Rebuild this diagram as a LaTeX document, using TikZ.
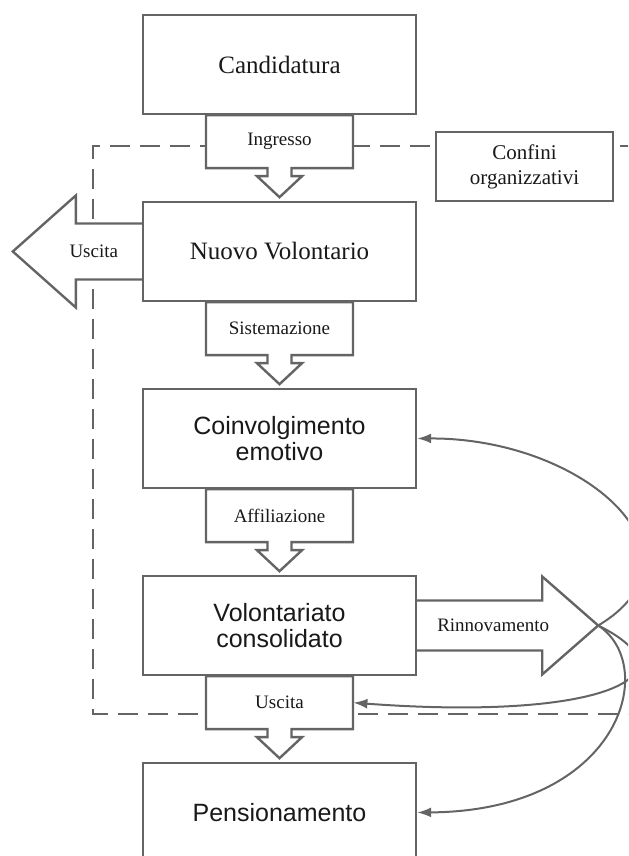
\documentclass[tikz,border=0pt]{standalone}
\usepackage{fontspec}
\setmainfont{Liberation Serif}
\setsansfont{Liberation Sans}
\usepackage{xcolor}
\usepackage{tikz}
\usetikzlibrary{arrows.meta, positioning}
\definecolor{linegray}{RGB}{100,100,100}
\definecolor{inkgray}{RGB}{25,25,25}

\tikzset{
  downarrow/.pic={
    \draw[draw=linegray, line width=1.2pt, fill=white]
      (-73.5,0) -- (73.5,0) -- (73.5,-53) -- (12,-53) -- (12,-61) -- (22.5,-61)
      -- (0,-82) -- (-22.5,-61) -- (-12,-61) -- (-12,-53) -- (-73.5,-53) -- cycle;
    \node[font=\fontsize{9.5}{11}\selectfont, text=inkgray, inner sep=0pt,
      minimum width=73.5pt, minimum height=26.5pt] (-body) at (0,-26.5) {#1};
  }
}

\begin{document}
\begin{tikzpicture}[
  x=0.5pt, y=0.5pt,
  stage/.style={
    draw=linegray, line width=1.2pt, fill=white, text=inkgray,
    minimum width=136.5pt, minimum height=49.5pt,
    align=center, inner sep=2pt
  },
  serifbig/.style={font=\fontsize{12.5}{13}\selectfont},
  sansbig/.style={font=\sffamily\fontsize{12.5}{13}\selectfont},
  flowlbl/.style={font=\fontsize{9.5}{11}\selectfont, text=inkgray, inner sep=0pt},
  blockline/.style={draw=linegray, line width=1.2pt, fill=white},
  boundary/.style={draw=linegray, line width=1pt, dash pattern=on 10pt off 5pt},
  backarc/.style={draw=linegray, line width=1pt, -{Latex[length=7pt, width=5pt]}}
]
  \useasboundingbox (0,0) rectangle (628,856);
  \clip (0,0) rectangle (628,856);

  \draw[boundary] (640,710) -- (93,710) -- (93,142) -- (640,142);

  \node[stage, serifbig] (cand) at (279.5,791.5) {Candidatura};
  \node[stage, serifbig] (nuovo) at (279.5,604.5) {Nuovo Volontario};
  \node[stage, sansbig] (coinv) at (279.5,417.5) {Coinvolgimento\\emotivo};
  \node[stage, sansbig] (vol) at (279.5,230.5) {Volontariato\\consolidato};
  \node[stage, sansbig] (pens) at (279.5,43.5) {Pensionamento};

  \node[stage, font=\fontsize{10.5}{12.5}\selectfont,
    minimum width=88.5pt, minimum height=34.5pt] (confini) at (524.5,689.5)
    {Confini\\organizzativi};

  \pic (ing) at (cand.south) {downarrow=Ingresso};
  \pic (sis) at (nuovo.south) {downarrow=Sistemazione};
  \pic (aff) at (coinv.south) {downarrow=Affiliazione};
  \pic (usc) at (vol.south) {downarrow=Uscita};

  \draw[blockline] ([yshift=14pt]nuovo.west) -- ++(-66,0) -- ++(0,28)
    -- ++(-63,-56) coordinate (exittip) -- ++(63,-56) -- ++(0,28) -- ++(66,0);
  \node[flowlbl] (exitlbl) at ([xshift=-24pt]nuovo.west) {Uscita};

  \draw[blockline] ([yshift=12.5pt]vol.east) -- ++(125,0) -- ++(0,24)
    -- ++(56,-49) coordinate (renewtip) -- ++(-56,-49) -- ++(0,24) -- ++(-125,0);
  \node[flowlbl] (renewlbl) at ([xshift=38pt]vol.east) {Rinnovamento};

  \draw[backarc] (renewtip) .. controls (715,300) and (585,418) .. (coinv.east);
  \draw[backarc] (renewtip) .. controls (700,180) and (600,135) .. (usc-body.east);
  \draw[backarc] (renewtip) .. controls (660,190) and (620,45) .. (pens.east);
\end{tikzpicture}
\end{document}
